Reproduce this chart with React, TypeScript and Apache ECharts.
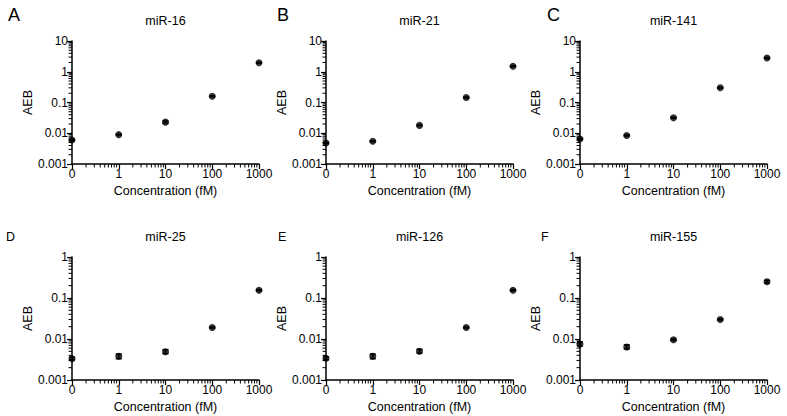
import React, { useEffect, useRef } from "react";
import * as echarts from "echarts";

// Concentrations (fM); "0" is drawn at the left end of the log axis
const concentrations = [0, 1, 10, 100, 1000];
const xTickLabels = ["0", "1", "10", "100", "1000"];
const yTickLabelsTop = ["0.001", "0.01", "0.1", "1", "10"];
const yTickLabelsBottom = ["0.001", "0.01", "0.1", "1"];

const panelNames = ["miR-16", "miR-21", "miR-141", "miR-25", "miR-126", "miR-155"];
const panelLetters = ["A", "B", "C", "D", "E", "F"];

// mean AEB values
const miR16 = [0.006, 0.009, 0.023, 0.16, 1.95];
const miR21 = [0.0048, 0.0055, 0.018, 0.145, 1.5];
const miR141 = [0.0065, 0.0085, 0.032, 0.3, 2.8];
const miR25 = [0.0033, 0.0038, 0.0049, 0.019, 0.155];
const miR126 = [0.0034, 0.0038, 0.005, 0.019, 0.155];
const miR155 = [0.0075, 0.0064, 0.0096, 0.03, 0.25];

// error bar low / high values
const miR16Low = [0.0057, 0.0087, 0.021, 0.155, 1.9];
const miR16High = [0.0063, 0.0093, 0.025, 0.165, 2.0];
const miR21Low = [0.0046, 0.0053, 0.0175, 0.14, 1.46];
const miR21High = [0.005, 0.0057, 0.0185, 0.15, 1.54];
const miR141Low = [0.0062, 0.0082, 0.031, 0.29, 2.7];
const miR141High = [0.0068, 0.0088, 0.033, 0.31, 2.9];
const miR25Low = [0.0031, 0.0033, 0.0044, 0.0185, 0.15];
const miR25High = [0.0036, 0.0043, 0.0055, 0.0195, 0.16];
const miR126Low = [0.0031, 0.0033, 0.0045, 0.0185, 0.15];
const miR126High = [0.0037, 0.0043, 0.0056, 0.0195, 0.16];
const miR155Low = [0.0068, 0.0057, 0.0092, 0.029, 0.23];
const miR155High = [0.0085, 0.0072, 0.01, 0.031, 0.27];

const seriesValues = [miR16, miR21, miR141, miR25, miR126, miR155];
const seriesLow = [miR16Low, miR21Low, miR141Low, miR25Low, miR126Low, miR155Low];
const seriesHigh = [miR16High, miR21High, miR141High, miR25High, miR126High, miR155High];

const X_MIN = 0.1;
const X_MAX = 1000;
const yMaxTop = 10;
const yMaxBottom = 1;
const Y_MIN = 0.001;

const FONT = "Liberation Sans, Arial, sans-serif";

function minorValues(min: number, max: number): number[] {
  const out: number[] = [];
  for (let d = min; d < max * 0.999; d *= 10) {
    for (let k = 2; k <= 9; k++) out.push(+(d * k).toPrecision(3));
  }
  return out;
}

export default function App() {
  const ref = useRef<HTMLDivElement>(null);
  useEffect(() => {
    if (!ref.current) return;
    const chart = echarts.init(ref.current, null, { renderer: "svg" });

    const lefts = [72, 326, 580];
    const tops = [41, 257];
    const W = 187;
    const H = 123;

    const grids: any[] = [];
    const xAxes: any[] = [];
    const yAxes: any[] = [];
    const series: any[] = [];
    const graphics: any[] = [];

    const axisLineStyle = { color: "#000", width: 1.5 };

    for (let i = 0; i < 6; i++) {
      const row = i < 3 ? 0 : 1;
      const col = i % 3;
      const yMax = row === 0 ? yMaxTop : yMaxBottom;
      const yLabels = row === 0 ? yTickLabelsTop : yTickLabelsBottom;
      grids.push({ left: lefts[col], top: tops[row], width: W, height: H });
      xAxes.push({
        type: "log",
        logBase: 10,
        gridIndex: i,
        min: X_MIN,
        max: X_MAX,
        axisLine: { show: true, lineStyle: axisLineStyle },
        axisTick: { show: true, length: 5, lineStyle: { color: "#000", width: 1.2 } },
        splitLine: { show: false },
        axisLabel: {
          color: "#000",
          fontSize: 12,
          fontFamily: FONT,
          margin: 4,
          formatter: (v: number) => xTickLabels[Math.round(Math.log10(v)) + 1],
        },
        name: "Concentration (fM)",
        nameLocation: "middle",
        nameGap: 20,
        nameTextStyle: { color: "#000", fontSize: 12.5, fontFamily: FONT },
      });
      yAxes.push({
        type: "log",
        logBase: 10,
        gridIndex: i,
        min: Y_MIN,
        max: yMax,
        axisLine: { show: true, lineStyle: axisLineStyle },
        axisTick: { show: true, length: 5, lineStyle: { color: "#000", width: 1.2 } },
        splitLine: { show: false },
        axisLabel: {
          color: "#000",
          fontSize: 12,
          fontFamily: FONT,
          margin: 4,
          formatter: (v: number) => yLabels[Math.round(Math.log10(v)) + 3],
        },
        name: "AEB",
        nameLocation: "middle",
        nameGap: 34,
        nameRotate: 90,
        nameTextStyle: { color: "#000", fontSize: 12.5, fontFamily: FONT },
      });

      // minor ticks
      const minorData: any[] = [];
      minorValues(X_MIN, X_MAX).forEach((v) => minorData.push([v, Y_MIN, 0]));
      minorValues(Y_MIN, yMax).forEach((v) => minorData.push([X_MIN, v, 1]));
      series.push({
        type: "custom",
        xAxisIndex: i,
        yAxisIndex: i,
        silent: true,
        clip: false,
        z: 5,
        data: minorData,
        renderItem: (params: any, api: any) => {
          const p = api.coord([api.value(0), api.value(1)]);
          const kind = api.value(2);
          const shape =
            kind === 0
              ? { x1: p[0], y1: p[1], x2: p[0], y2: p[1] + 3.5 }
              : { x1: p[0], y1: p[1], x2: p[0] - 3.5, y2: p[1] };
          return { type: "line", shape, style: { stroke: "#000", lineWidth: 1 } };
        },
      });

      const vals = seriesValues[i];
      const xs = concentrations.map((c) => (c === 0 ? X_MIN : c));

      // error bars
      series.push({
        type: "custom",
        xAxisIndex: i,
        yAxisIndex: i,
        silent: true,
        clip: false,
        data: xs.map((x, j) => [x, seriesLow[i][j], seriesHigh[i][j]]),
        renderItem: (params: any, api: any) => {
          const lo = api.coord([api.value(0), api.value(1)]);
          const hi = api.coord([api.value(0), api.value(2)]);
          const st = { stroke: "#000", lineWidth: 1.5 };
          return {
            type: "group",
            children: [
              { type: "line", shape: { x1: lo[0], y1: lo[1], x2: hi[0], y2: hi[1] }, style: st },
              { type: "line", shape: { x1: lo[0] - 3, y1: lo[1], x2: lo[0] + 3, y2: lo[1] }, style: st },
              { type: "line", shape: { x1: hi[0] - 3, y1: hi[1], x2: hi[0] + 3, y2: hi[1] }, style: st },
            ],
          };
        },
      });

      series.push({
        type: "scatter",
        xAxisIndex: i,
        yAxisIndex: i,
        clip: false,
        symbol: "circle",
        symbolSize: 7,
        itemStyle: { color: "#000" },
        data: xs.map((x, j) => [x, vals[j]]),
      });

      graphics.push({
        type: "text",
        x: lefts[col] + W / 2,
        y: row === 0 ? 21 : 237,
        style: {
          text: panelNames[i],
          fill: "#000",
          font: `12.5px ${FONT}`,
          align: "center",
          verticalAlign: "middle",
        },
      });
      const letterX = [8, 277, 547][col];
      const letterX2 = [6, 278, 541][col];
      graphics.push({
        type: "text",
        x: row === 0 ? letterX : letterX2,
        y: row === 0 ? 15 : 237,
        style: {
          text: panelLetters[i],
          fill: "#000",
          font: row === 0 ? `18px ${FONT}` : `12.5px ${FONT}`,
          align: "left",
          verticalAlign: "middle",
        },
      });
    }

    chart.setOption({
      animation: false,
      backgroundColor: "#fff",
      grid: grids,
      xAxis: xAxes,
      yAxis: yAxes,
      series,
      graphic: graphics,
    });
    return () => chart.dispose();
  }, []);

  return (
    <div
      ref={ref}
      style={{ position: "fixed", left: 0, top: 0, width: 787, height: 416 }}
    />
  );
}
